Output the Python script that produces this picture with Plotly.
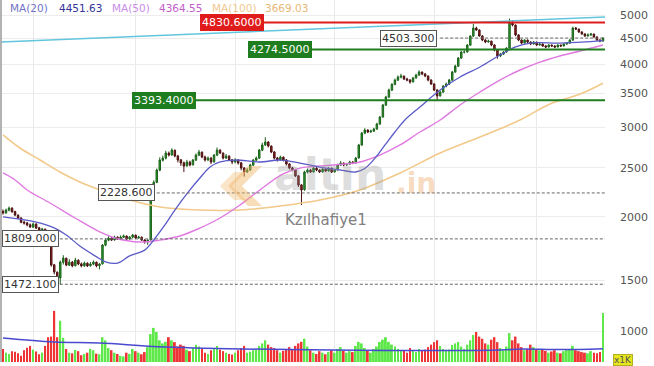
import math
import plotly.graph_objects as go

# ---------------- data ----------------
opens = [2050,2035,2060,2080,2048,2015,1990,1952,1945,1928,
         1908,1935,1902,1882,1890,1860,1758,1608,1555,1515,
         1626,1656,1605,1628,1602,1642,1615,1600,1620,1601,
         1613,1627,1602,1615,1758,1798,1815,1800,1823,1808,
         1822,1832,1809,1823,1840,1817,1823,1800,1784,1800,
         2258,2338,2470,2585,2610,2670,2648,2705,2636,2590,
         2555,2520,2563,2532,2586,2645,2682,2625,2590,2610,
         2567,2645,2706,2670,2612,2634,2590,2566,2587,2555,
         2497,2452,2472,2528,2586,2610,2706,2770,2808,2757,
         2685,2612,2589,2622,2589,2543,2497,2475,2409,2312,
         2262,2450,2472,2452,2494,2474,2452,2483,2463,2494,
         2452,2474,2529,2552,2531,2540,2564,2554,2612,2770,
         2924,2965,2940,2951,2978,3046,3145,3320,3444,3555,
         3648,3720,3771,3788,3740,3723,3690,3755,3805,3858,
         3826,3791,3724,3657,3559,3464,3523,3618,3653,3720,
         3858,3963,4110,4225,4228,4360,4543,4712,4670,4547,
         4465,4424,4440,4365,4267,4152,4186,4228,4302,4830,
         4776,4568,4465,4404,4461,4423,4385,4420,4365,4382,
         4345,4325,4362,4344,4325,4362,4345,4382,4400,4461,
         4712,4690,4630,4588,4546,4565,4586,4527,4465,4443]
highs = [2068,2075,2095,2088,2055,2022,1995,1965,1955,1940,
         1948,1942,1910,1902,1895,1866,1762,1615,1560,1640,
         1680,1662,1650,1636,1660,1648,1625,1632,1626,1628,
         1640,1632,1622,1768,1812,1830,1825,1835,1830,1838,
         1845,1838,1832,1850,1845,1834,1828,1806,1806,2270,
         2360,2490,2620,2640,2700,2690,2730,2715,2650,2600,
         2570,2590,2580,2600,2665,2710,2690,2640,2630,2625,
         2660,2740,2720,2680,2660,2645,2600,2610,2600,2565,
         2505,2495,2545,2600,2630,2720,2800,2870,2820,2765,
         2695,2625,2640,2630,2600,2550,2510,2480,2415,2318,
         2465,2490,2485,2510,2505,2480,2495,2490,2505,2500,
         2485,2545,2575,2560,2555,2580,2575,2625,2785,2940,
         2990,2975,2970,2995,3065,3160,3340,3465,3580,3670,
         3745,3800,3830,3800,3760,3735,3775,3830,3890,3870,
         3840,3800,3730,3665,3565,3545,3640,3680,3740,3880,
         3990,4130,4250,4260,4380,4560,4800,4740,4685,4560,
         4480,4470,4450,4375,4280,4210,4245,4320,4920,4880,
         4790,4580,4475,4480,4475,4435,4440,4430,4400,4395,
         4360,4380,4375,4355,4375,4370,4395,4420,4480,4740,
         4735,4700,4645,4600,4600,4610,4595,4535,4480,4520]
lows = [2020,2028,2050,2038,2005,1980,1942,1930,1915,1900,
        1902,1892,1875,1872,1850,1750,1595,1540,1420,1470,
        1610,1598,1600,1590,1596,1605,1590,1594,1592,1595,
        1605,1590,1575,1610,1750,1790,1792,1795,1800,1802,
        1815,1800,1802,1818,1808,1810,1792,1770,1760,1795,
        2245,2330,2460,2570,2595,2630,2640,2620,2560,2520,
        2450,2510,2515,2525,2580,2635,2610,2570,2575,2540,
        2555,2635,2660,2595,2600,2575,2540,2550,2535,2470,
        2400,2440,2465,2520,2575,2600,2695,2760,2740,2670,
        2595,2570,2580,2570,2525,2480,2460,2395,2290,2110,
        2250,2435,2440,2445,2460,2440,2445,2450,2455,2440,
        2445,2470,2520,2515,2520,2532,2540,2548,2605,2760,
        2910,2925,2930,2940,2970,3040,3140,3310,3430,3540,
        3635,3705,3750,3720,3700,3660,3680,3745,3795,3805,
        3770,3700,3640,3540,3400,3450,3510,3600,3640,3710,
        3850,3950,4100,4200,4215,4350,4530,4650,4530,4440,
        4400,4410,4340,4240,4100,4130,4170,4215,4295,4750,
        4540,4440,4380,4390,4400,4360,4370,4345,4350,4325,
        4300,4315,4330,4305,4315,4330,4335,4370,4390,4450,
        4670,4610,4570,4530,4535,4550,4510,4445,4420,4430]
closes = [2035,2062,2081,2045,2016,1989,1950,1944,1927,1910,
          1936,1900,1883,1891,1858,1759,1606,1556,1514,1628,
          1658,1606,1628,1600,1643,1614,1600,1621,1600,1614,
          1628,1600,1614,1759,1799,1816,1799,1824,1808,1824,
          1833,1808,1824,1841,1816,1824,1799,1783,1799,2259,
          2340,2473,2588,2611,2672,2647,2708,2635,2588,2553,
          2518,2565,2530,2588,2647,2684,2623,2588,2611,2565,
          2647,2708,2672,2611,2635,2588,2565,2588,2553,2495,
          2451,2473,2530,2588,2611,2708,2771,2809,2758,2684,
          2611,2588,2623,2588,2541,2495,2473,2407,2310,2259,
          2451,2473,2451,2495,2473,2451,2484,2462,2495,2451,
          2473,2530,2553,2530,2541,2565,2553,2611,2771,2925,
          2966,2939,2952,2980,3048,3147,3323,3446,3557,3650,
          3722,3773,3790,3739,3722,3688,3756,3807,3860,3825,
          3790,3722,3655,3557,3462,3525,3620,3655,3722,3860,
          3965,4113,4227,4227,4363,4545,4714,4671,4545,4463,
          4422,4442,4363,4265,4150,4188,4227,4304,4832,4778,
          4566,4463,4402,4463,4422,4383,4422,4363,4383,4343,
          4323,4363,4343,4323,4363,4343,4383,4402,4463,4714,
          4692,4629,4587,4545,4566,4587,4525,4463,4442,4503.3]
volumes = [420,300,260,350,330,280,200,380,460,520,
           400,340,250,300,520,800,820,1650,800,1330,
           780,420,300,280,390,350,220,260,300,420,
           380,270,250,800,700,450,380,300,260,200,
           180,300,260,420,350,300,250,320,480,900,
           1100,970,700,600,650,800,700,640,500,560,
           520,400,350,460,560,500,420,300,260,380,
           450,520,400,350,300,260,240,300,380,450,
           520,300,330,380,400,520,600,700,560,480,
           450,380,300,360,420,480,400,520,600,650,
           750,500,380,300,260,350,300,250,320,380,
           300,420,480,360,300,350,320,520,650,600,
           450,380,300,420,500,650,720,800,650,560,
           500,420,380,360,300,450,380,320,420,360,
           400,480,560,640,700,520,420,360,400,550,
           600,650,500,420,560,700,870,970,820,750,
           600,560,720,800,640,450,380,500,935,700,
           820,600,480,380,420,560,480,400,380,420,
           360,300,340,380,300,280,350,420,400,520,
           380,350,320,300,280,350,300,280,320,1580]

ma20_x = [0,11,17,21,25.5,30.5,34,38,42,47,50.5,53.7,57,62,65.3,68.7,72,77,85,92,
          98.5,105,112,117,120,123.4,126.7,130,133.3,138.3,145,151.6,158.2,164.8,169.8,
          174.8,184.7,192,199]
ma20_v = [2000,1953,1902,1841,1751,1675,1630,1621,1675,1719,1816,1927,2062,2259,2385,
          2507,2565,2588,2565,2588,2553,2507,2473,2451,2490,2611,2771,2939,3104,3293,
          3557,3773,3949,4169,4323,4402,4402,4420,4451.63]
ma50_x = [0,4,8,15.6,23.9,32.2,37.1,45.4,52,58.7,65.3,72,78.6,85.2,92.9,98.5,109.5,
          118.4,125,131.7,138.3,145,151.6,158.2,164.8,171.5,178.1,184.7,191.4,199]
ma50_v = [2440,2364,2259,2129,1989,1866,1816,1783,1799,1833,1900,1989,2110,2259,2429,
          2495,2530,2565,2647,2771,2939,3104,3323,3525,3722,3895,4038,4151,4246,4364.55]
ma100_x = [0,5.6,12.3,18.9,25.5,32.2,42.1,52.1,65.3,78.6,91.9,105.1,118.4,131.7,145,
           158.2,171.5,181.4,191.4,199]
ma100_v = [2900,2733,2588,2451,2342,2259,2158,2091,2062,2062,2100,2158,2259,2440,2672,
           2873,3104,3338,3493,3669.03]
volma_x = [0,17,32,54,109,165,172,185,199]
volma_v = [774,645,613,484,387,390,420,400,430]

trend_x = [-0.66, 199.67]
trend_v = [4422, 4955]

solid_levels = [4830.6, 4274.5, 3393.4]
solid_colors = ["#e01b1b", "#1e7d1e", "#1e7d1e"]
solid_start = [85.9, 101.2, 62.7]
dashed_levels = [4503.3, 2228.6, 1809.0, 1472.1]
dashed_start = [145, 51, 17.2, 17.2]

price_ticks = [1500, 2000, 2500, 3000, 3500, 4000, 4500, 5000]
vol_ticks = [1000]

# ---------------- figure ----------------
idx = list(range(len(closes)))
W, H = 654, 366
ML, MR, MT, MB = 1, 49, 0, 4
PW = W - ML - MR
PH = H - MT - MB

def px_x(p):
    return (p - ML) / PW

def px_y(p):
    return 1 - (p - MT) / PH

fig = go.Figure()

# MA lines
fig.add_trace(go.Scatter(x=ma100_x, y=ma100_v, mode="lines", line=dict(color="#f2c98a", width=1.6, shape="spline"), yaxis="y"))
fig.add_trace(go.Scatter(x=ma50_x, y=ma50_v, mode="lines", line=dict(color="#e07ae0", width=1.4, shape="spline"), yaxis="y"))
fig.add_trace(go.Scatter(x=ma20_x, y=ma20_v, mode="lines", line=dict(color="#5a5ac8", width=1.3, shape="spline"), yaxis="y"))

# trend line
fig.add_trace(go.Scatter(x=trend_x, y=trend_v, mode="lines", line=dict(color="#62c6de", width=1.5), yaxis="y"))

# level lines
for v, c, s in zip(solid_levels, solid_colors, solid_start):
    fig.add_trace(go.Scatter(x=[s, 201], y=[v, v], mode="lines", line=dict(color=c, width=2), yaxis="y"))
for v, s in zip(dashed_levels, dashed_start):
    fig.add_trace(go.Scatter(x=[s, 201], y=[v, v], mode="lines", line=dict(color="#666666", width=1, dash="3px,2px"), yaxis="y"))

# candles
fig.add_trace(go.Candlestick(
    x=idx, open=opens, high=highs, low=lows, close=closes,
    increasing=dict(line=dict(color="#1c641c", width=1), fillcolor="#2f9a2f"),
    decreasing=dict(line=dict(color="#4a1010", width=1), fillcolor="#9c1e1e"),
    whiskerwidth=0, yaxis="y"))

# volume
vcolors = ["#5ee84a" if c >= o else "#ee3434" for o, c in zip(opens, closes)]
fig.add_trace(go.Bar(x=idx, y=volumes, marker=dict(color=vcolors, line=dict(width=0)), width=0.62, yaxis="y2"))
fig.add_trace(go.Scatter(x=volma_x, y=volma_v, mode="lines", line=dict(color="#4a4ad0", width=1.5, shape="spline"), yaxis="y2"))

annotations = []
# level labels (solid)
sol_label_px = [200, 248, 132]
for v, c, p in zip(solid_levels, solid_colors, sol_label_px):
    annotations.append(dict(x=px_x(p), xref="paper", xanchor="left", y=math.log10(v), yref="y", yanchor="middle",
                            text=f"{v:.4f}", showarrow=False, bgcolor=c, bordercolor=c, borderwidth=1, borderpad=1,
                            font=dict(family="DejaVu Sans", size=11, color="white")))
dash_label_px = [380, 98, 2, 2]
for v, p in zip(dashed_levels, dash_label_px):
    annotations.append(dict(x=px_x(p), xref="paper", xanchor="left", y=math.log10(v), yref="y", yanchor="middle",
                            text=f"{v:.3f}", showarrow=False, bgcolor="white", bordercolor="#555555", borderwidth=1, borderpad=1,
                            font=dict(family="DejaVu Sans", size=11, color="#333333")))

# top legend
legend_items = [("MA(20)", 8, "#7272c8"), (f"{ma20_v[-1]:.2f}", 57, "#34349a"),
                ("MA(50)", 110, "#c98ee8"), (f"{ma50_v[-1]:.2f}", 157, "#c25ec8"),
                ("MA(100)", 210, "#f2c890"), (f"{ma100_v[-1]:.2f}", 263, "#e8b878")]
for t, p, c in legend_items:
    annotations.append(dict(x=px_x(p), xref="paper", xanchor="left", y=px_y(8), yref="paper", yanchor="middle",
                            text=t, showarrow=False, font=dict(family="DejaVu Sans", size=10.5, color=c)))

# watermark
annotations.append(dict(x=px_x(272), xref="paper", xanchor="left", y=px_y(202), yref="paper", yanchor="bottom",
                        text="<b>altın</b>", showarrow=False, font=dict(family="DejaVu Sans", size=44, color="rgba(150,150,150,0.33)")))
annotations.append(dict(x=px_x(394), xref="paper", xanchor="left", y=px_y(202), yref="paper", yanchor="bottom",
                        text="<b>.in</b>", showarrow=False, font=dict(family="DejaVu Sans", size=28, color="rgba(235,160,90,0.4)")))
annotations.append(dict(x=px_x(326), xref="paper", xanchor="center", y=px_y(220), yref="paper", yanchor="middle",
                        text="Kzılhafiye1", showarrow=False, font=dict(family="DejaVu Sans", size=15, color="#808080")))
# x1K
annotations.append(dict(x=px_x(613), xref="paper", xanchor="left", y=px_y(360), yref="paper", yanchor="middle",
                        text="x1K", showarrow=False, bgcolor="#e6e61e", bordercolor="#b0b020", borderwidth=1, borderpad=0,
                        font=dict(family="DejaVu Sans", size=9, color="#555555")))

shapes = [
    dict(type="line", xref="paper", yref="paper", x0=0, x1=0, y0=0, y1=1, line=dict(color="#9a9a9a", width=1.5)),
    # logo chevrons
    dict(type="path", xref="paper", yref="paper",
         path=f"M {px_x(248)} {px_y(166)} L {px_x(262)} {px_y(166)} L {px_x(242)} {px_y(186)} L {px_x(262)} {px_y(206)} L {px_x(248)} {px_y(206)} L {px_x(228)} {px_y(186)} Z",
         fillcolor="rgba(240,180,100,0.45)", line=dict(width=0)),
    dict(type="path", xref="paper", yref="paper",
         path=f"M {px_x(234)} {px_y(172)} L {px_x(246)} {px_y(172)} L {px_x(232)} {px_y(186)} L {px_x(246)} {px_y(200)} L {px_x(234)} {px_y(200)} L {px_x(220)} {px_y(186)} Z",
         fillcolor="rgba(240,180,100,0.35)", line=dict(width=0)),
]

fig.update_layout(
    width=W, height=H, margin=dict(l=ML, r=MR, t=MT, b=MB),
    paper_bgcolor="white", plot_bgcolor="white", showlegend=False,
    annotations=annotations, shapes=shapes,
    xaxis=dict(range=[-0.66, 199.67], showticklabels=False, ticks="", tickvals=[10, 44, 77, 110, 143, 177],
               showgrid=True, gridcolor="#e9e9e9", gridwidth=1, zeroline=False, rangeslider=dict(visible=False)),
    yaxis=dict(type="log", range=[3.0146, 3.7286], side="right", tickvals=price_ticks,
               ticktext=[str(t) for t in price_ticks], showgrid=True, gridcolor="#ececec",
               tickfont=dict(family="DejaVu Sans", size=11, color="#555555"), ticks="", ticklabelstandoff=14,
               zeroline=False, fixedrange=True),
    yaxis2=dict(overlaying="y", side="right", range=[0, 11677], tickvals=vol_ticks,
                ticktext=[str(t) for t in vol_ticks], showgrid=True, gridcolor="#ececec",
                tickfont=dict(family="DejaVu Sans", size=11, color="#555555"), ticks="", ticklabelstandoff=14,
                zeroline=False),
    bargap=0.3,
)

fig.write_html("out.html")
